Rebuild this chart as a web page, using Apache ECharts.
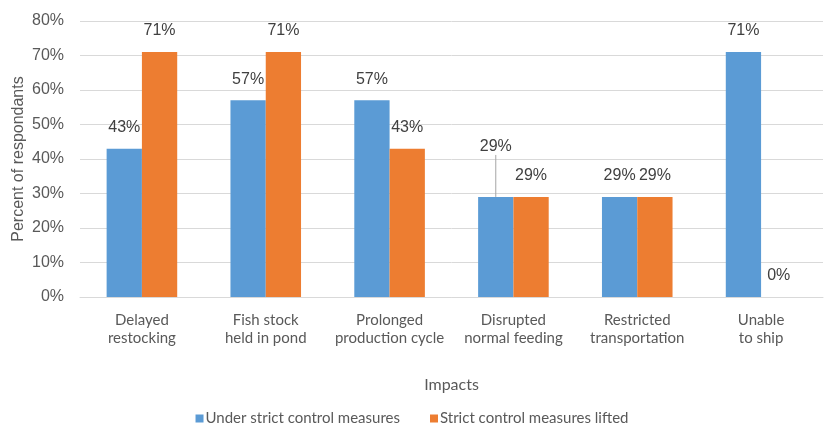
<!DOCTYPE html>
<html>
<head>
<meta charset="utf-8">
<script src="https://cdn.jsdelivr.net/npm/echarts@6/dist/echarts.min.js"></script>
<style>
  html, body { margin: 0; padding: 0; background: #fff; }
  #chart { width: 824px; height: 428px; }
</style>
</head>
<body>
<div id="chart"></div>
<script>
// Impacts reported by respondents, in percent
const categories = [
  'Delayed\nrestocking',
  'Fish stock\nheld in pond',
  'Prolonged\nproduction cycle',
  'Disrupted\nnormal feeding',
  'Restricted\ntransportation',
  'Unable\nto ship'
];
const underStrict = [43, 57, 57, 29, 29, 71];
const measuresLifted = [71, 71, 43, 29, 29, 0];
const seriesNames = ['Under strict control measures', 'Strict control measures lifted'];
const yTicks = [0, 10, 20, 30, 40, 50, 60, 70, 80];

const narrow = 'Lato, sans-serif';
const sans = 'Arial, "Liberation Sans", sans-serif';

const chart = echarts.init(document.getElementById('chart'));

const valueLabel = {
  show: true,
  position: 'top',
  distance: 13,
  formatter: '{c}%',
  fontFamily: sans,
  fontSize: 16,
  color: '#404040'
};

// The feeding bar's label is lifted and tied to its bar by a leader line
const underStrictData = underStrict.map(function (v, i) {
  if (i === 3) {
    return { value: v, labelLine: { show: true } };
  }
  return v;
});

chart.setOption({
  animation: false,
  grid: { left: 80, right: 1, top: 21, bottom: 131, outerBoundsMode: 'none', containLabel: false },
  legend: {
    bottom: -3,
    left: 'center',
    padding: [5, 5, 5, 11],
    itemWidth: 8,
    itemHeight: 8,
    itemGap: 30,
    icon: 'rect',
    textStyle: { fontFamily: narrow, fontSize: 15, color: '#595959', padding: [0, 0, 0, -3] },
    data: seriesNames
  },
  xAxis: {
    type: 'category',
    data: categories,
    name: 'Impacts',
    nameLocation: 'middle',
    nameGap: 80,
    nameMoveOverlap: false,
    nameTextStyle: { fontFamily: narrow, fontSize: 16, color: '#595959' },
    axisLine: { lineStyle: { color: '#D9D9D9' } },
    axisTick: { show: false },
    axisLabel: {
      interval: 0,
      margin: 14,
      lineHeight: 18,
      fontFamily: narrow,
      fontSize: 15,
      color: '#595959'
    }
  },
  yAxis: {
    type: 'value',
    min: yTicks[0],
    max: yTicks[yTicks.length - 1],
    interval: 10,
    name: 'Percent of respondants',
    nameLocation: 'middle',
    nameRotate: 90,
    nameGap: 53,
    nameMoveOverlap: false,
    nameTextStyle: { fontFamily: sans, fontSize: 16, color: '#595959' },
    axisLine: { show: false },
    axisTick: { show: false },
    axisLabel: {
      margin: 16,
      formatter: '{value}%',
      fontFamily: sans,
      fontSize: 16,
      color: '#595959'
    },
    splitLine: { lineStyle: { color: '#D9D9D9', width: 1 } }
  },
  series: [
    {
      name: seriesNames[0],
      type: 'bar',
      data: underStrictData,
      barGap: '0%',
      barCategoryGap: '43%',
      itemStyle: { color: '#5B9BD5' },
      label: valueLabel,
      labelLine: { show: false, lineStyle: { color: '#A6A6A6', width: 1 } },
      labelLayout: function (p) {
        if (p.dataIndex === 3) {
          return { dy: -29 };
        }
        return {};
      }
    },
    {
      name: seriesNames[1],
      type: 'bar',
      data: measuresLifted,
      itemStyle: { color: '#ED7D31' },
      label: valueLabel
    }
  ]
});
</script>
</body>
</html>
